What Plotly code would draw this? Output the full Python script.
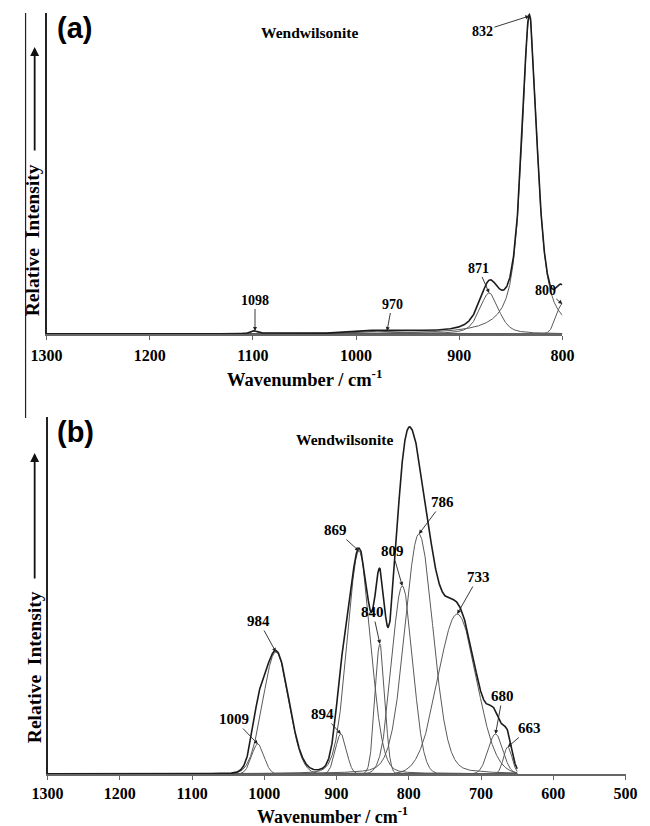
import numpy as np
import plotly.graph_objects as go

# ---------------------------------------------------------------
# Band-fit parameters (Raman, wendwilsonite)
# ---------------------------------------------------------------
# Panel (a): 1300-800 cm-1 region
a_centres = [1098, 970, 871, 832, 800]
a_heights = [3, 3, 41, 318, 30]
a_fwhm = [10, 60, 22, 18, 14]
a_lorentz = [0.0, 0.0, 0.5, 0.8, 0.0]
a_window = [1300, 800]

# Panel (b): 1300-650 cm-1 region
b_centres = [1009, 984, 894, 869, 840, 809, 786, 733, 680, 663]
b_heights = [30, 122, 40, 223, 130, 188, 240, 160, 40, 27]
b_fwhm = [20, 42, 18, 38, 16, 34, 46, 62, 24, 14]
b_lorentz = [0.0, 0.0, 0.0, 0.1, 0.0, 0.0, 0.15, 0.0, 0.0, 0.0]
b_window = [1300, 650]

a_ticks = [1300, 1200, 1100, 1000, 900, 800]
b_ticks = [1300, 1200, 1100, 1000, 900, 800, 700, 600, 500]

W, H = 650, 826
SERIF = "Liberation Serif"
SANS = "Liberation Sans"


def px(x):
    return x / W


def py(y):
    return 1 - y / H


def band(wn, c, h, w, eta):
    g = np.exp(-4 * np.log(2) * ((wn - c) / w) ** 2)
    lo = 1.0 / (1.0 + (2 * (wn - c) / w) ** 2)
    return h * ((1 - eta) * g + eta * lo)


def panel_traces(window, centres, heights, fwhm, eta, xa, ya):
    wn = np.arange(window[1], window[0] + 0.25, 0.25)
    comps = [band(wn, c, h, w, e) for c, h, w, e in zip(centres, heights, fwhm, eta)]
    traces = []
    for comp in comps:
        traces.append(go.Scatter(x=wn, y=comp, mode="lines", xaxis=xa, yaxis=ya,
                                 line=dict(color="#5a5a5a", width=1.0),
                                 hoverinfo="skip", showlegend=False))
    total = np.sum(comps, axis=0)
    traces.append(go.Scatter(x=wn, y=total, mode="lines", xaxis=xa, yaxis=ya,
                             line=dict(color="#1c1c1c", width=1.6),
                             hoverinfo="skip", showlegend=False))
    return traces


fig = go.Figure()
for t in panel_traces(a_window, a_centres, a_heights, a_fwhm, a_lorentz, "x", "y"):
    fig.add_trace(t)
for t in panel_traces(b_window, b_centres, b_heights, b_fwhm, b_lorentz, "x2", "y2"):
    fig.add_trace(t)

tickfont = dict(family=SERIF, size=16, color="black", weight="bold")
axis_common = dict(showgrid=False, zeroline=False, showline=True,
                   ticks="outside", ticklen=4, tickwidth=1.2,
                   tickcolor="#666", linecolor="#666", linewidth=1.5,
                   tickfont=tickfont)

fig.update_layout(
    width=W, height=H,
    margin=dict(l=0, r=0, t=0, b=0),
    paper_bgcolor="white", plot_bgcolor="white",
    xaxis=dict(domain=[px(32), px(571)], range=[1300, 800], anchor="y",
               tickvals=a_ticks, ticktext=[str(v) for v in a_ticks],
               ticklabelstandoff=2, **axis_common),
    yaxis=dict(domain=[py(334), py(13)], range=[0, 321], anchor="x",
               showgrid=False, zeroline=False, showline=True, linecolor="#222",
               linewidth=1.5, showticklabels=False, ticks=""),
    xaxis2=dict(domain=[px(33), px(637)], range=[1300, 500], anchor="y2",
                tickvals=b_ticks, ticktext=[str(v) for v in b_ticks],
                ticklabelstandoff=0, **axis_common),
    yaxis2=dict(domain=[py(774), py(417)], range=[0, 357], anchor="x2",
                showgrid=False, zeroline=False, showline=True, linecolor="#222",
                linewidth=1.5, showticklabels=False, ticks=""),
)

ann = []


def text_px(x, y, s, size, family=SERIF, angle=0, weight="bold"):
    ann.append(dict(x=px(x), y=py(y), xref="paper", yref="paper", text=s,
                    showarrow=False, textangle=angle,
                    font=dict(family=family, size=size, color="black", weight=weight),
                    xanchor="center", yanchor="middle"))


# panel letters and mineral name
text_px(61, 28, "(a)", 29, family=SANS)
text_px(62, 432, "(b)", 29, family=SANS)
text_px(307, 33, "Wendwilsonite", 15.5)
text_px(343, 439, "Wendwilsonite", 15.5)

# axis titles
text_px(301, 378, "Wavenumber / cm<sup>-1</sup>", 18.5)
text_px(331, 815, "Wavenumber / cm<sup>-1</sup>", 18)
text_px(18, 240, "Relative  Intensity", 19.5, angle=-90)
text_px(19, 667, "Relative  Intensity", 19.5, angle=-90)

# upward arrows beside the intensity titles
for head_y, tail_y in [(47, 152), (453, 580)]:
    ann.append(dict(x=px(19.5), y=py(head_y), xref="paper", yref="paper",
                    ax=0, ay=tail_y - head_y, axref="pixel", ayref="pixel",
                    text="", showarrow=True, arrowhead=2, arrowsize=1.0,
                    arrowwidth=1.8, arrowcolor="#111"))

# band labels: (centre, text offset dx, dy in px)
a_label_offsets = {1098: (0, -31), 970: (5, -27), 871: (-11, -25),
                   832: (-47, 15), 800: (-17, -14)}
b_label_offsets = {1009: (-24, -25), 984: (-17, -31), 894: (-18, -20),
                   869: (-23, -21), 840: (-7, -32), 809: (-10, -35),
                   786: (24, -32), 733: (21, -37), 680: (7, -38), 663: (22, -19)}


def band_labels(centres, heights, offsets, xa, ya, size):
    for c, h in zip(centres, heights):
        dx, dy = offsets[c]
        ann.append(dict(x=c, y=h, xref=xa, yref=ya, ax=dx, ay=dy,
                        axref="pixel", ayref="pixel", text=str(c),
                        showarrow=True, arrowhead=2, arrowsize=0.9,
                        arrowwidth=0.9, arrowcolor="#222", standoff=0,
                        font=dict(family=SERIF, size=size, color="black",
                                  weight="bold")))


band_labels(a_centres, a_heights, a_label_offsets, "x", "y", 14)
band_labels(b_centres, b_heights, b_label_offsets, "x2", "y2", 15)

fig.update_layout(annotations=ann)

# left frame rule of the upper figure part
fig.add_shape(type="line", xref="paper", yref="paper",
              x0=px(10), x1=px(10), y0=py(13), y1=py(418),
              line=dict(color="#222", width=1.2))

fig.write_html("out.html")
